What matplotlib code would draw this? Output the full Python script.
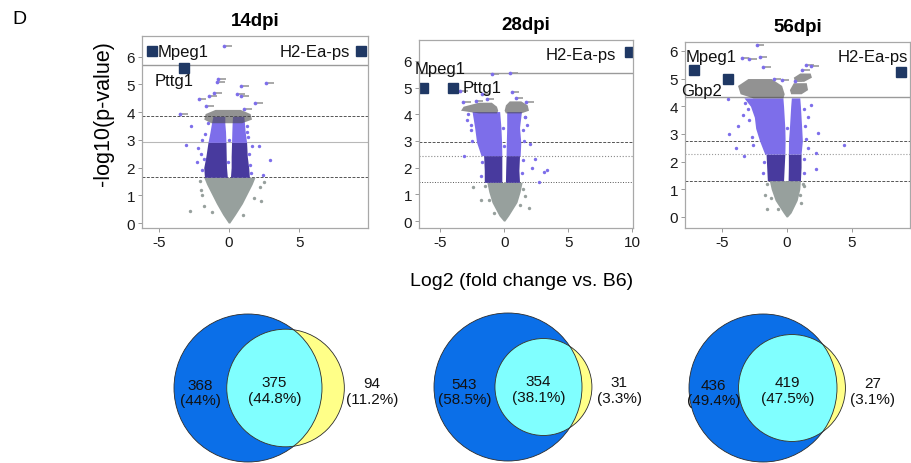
import math

import matplotlib
matplotlib.use("Agg")
import matplotlib.pyplot as plt
from matplotlib.patches import Circle

plt.rcParams['font.family'] = ['Liberation Sans', 'DejaVu Sans']
plt.rcParams['axes.unicode_minus'] = False

W, H = 912, 464

titles = ['14dpi', '28dpi', '56dpi']

# threshold lines (-log10 p)
thr_top = [5.71, 5.54, 4.34]
thr_hi = [3.85, 2.95, 2.75]
thr_mid = [2.91, 2.45, 2.27]
thr_lo = [1.65, 1.45, 1.31]

# ---- 14dpi cloud envelopes (y, left x, right x) ----
g14_y = [0.0, 0.3, 0.7, 1.1, 1.4, 1.65]
g14_l = [-0.05, -0.45, -0.9, -1.3, -1.6, -1.8]
g14_r = [0.05, 0.45, 0.95, 1.35, 1.65, 1.85]
d14_y = [1.65, 2.0, 2.4, 2.91]
d14_ll = [-1.75, -1.8, -1.65, -1.5]
d14_lr = [-0.12, -0.18, -0.2, -0.22]
d14_rl = [0.1, 0.15, 0.15, 0.18]
d14_rr = [1.45, 1.4, 1.3, 1.25]
p14_y = [2.91, 3.3, 3.6, 3.85]
p14_ll = [-1.5, -1.35, -1.25, -1.15]
p14_lr = [-0.22, -0.25, -0.3, -0.3]
p14_rl = [0.18, 0.2, 0.22, 0.25]
p14_rr = [1.25, 1.15, 1.1, 1.05]
b14 = [([3.62, 3.75, 3.95, 4.1], [-1.3, -1.8, -1.7, -1.0], [0.9, 1.6, 1.5, 0.8])]
lab14_x = [-3.48, -2.17, -1.63, -0.86, -0.8, -1.4, 0.84, 0.86, 1.88, 2.66, -0.34, 1.1, -1.1, 0.6]
lab14_y = [3.93, 4.48, 4.24, 5.08, 5.2, 4.6, 4.96, 4.6, 4.32, 5.05, 6.4, 4.1, 4.7, 4.65]
out14_x = [-3.1, -2.74, 1.64, 2.1, 2.9, 2.45, -1.9, -2.3, 1.3,
           -2.0, -1.9, -2.2, -1.7, -1.5, 1.5, 1.45, 1.35, 1.3, -0.05, 0.0, -1.8, 1.6]
out14_y = [2.83, 3.51, 2.79, 2.79, 2.27, 1.74, 3.0, 2.2, 3.3,
           2.5, 1.9, 2.7, 3.2, 3.6, 2.1, 2.5, 3.1, 3.5, 2.2, 3.0, 2.3, 1.8]
gout14_x = [-2.76, 2.5, -2.0, 2.3, -1.8, -2.1, 2.2, -1.9, 1.8, -1.2, 1.0]
gout14_y = [0.44, 1.47, 1.2, 0.8, 0.6, 1.5, 1.3, 1.0, 0.9, 0.4, 0.3]
genes14 = ['Mpeg1', 'Pttg1', 'H2-Ea-ps']
gx14 = [-5.52, -3.24, 9.38]
gy14 = [6.2, 5.58, 6.2]

# ---- 28dpi ----
g28_y = [0.0, 0.2, 0.7, 1.1, 1.45]
g28_l = [-0.05, -0.4, -0.95, -1.2, -1.35]
g28_r = [0.05, 0.35, 1.0, 1.25, 1.4]
d28_y = [1.45, 1.9, 2.45]
d28_ll = [-1.55, -1.55, -1.6]
d28_lr = [-0.18, -0.18, -0.18]
d28_rl = [0.1, 0.12, 0.15]
d28_rr = [1.2, 1.15, 1.2]
p28_y = [2.45, 2.95, 3.5, 4.1]
p28_ll = [-1.8, -2.15, -2.3, -2.5]
p28_lr = [-0.18, -0.2, -0.25, -0.35]
p28_rl = [0.15, 0.17, 0.2, 0.2]
p28_rr = [1.25, 1.3, 1.2, 1.35]
b28 = [([4.05, 4.15, 4.3, 4.45], [-2.0, -3.4, -3.2, -2.0], [-0.6, -0.5, -0.6, -1.0]),
       ([4.05, 4.15, 4.35, 4.5], [0.1, 0.0, 0.1, 0.4], [1.3, 1.9, 1.8, 1.3])]
lab28_x = [-0.96, 0.47, 0.6, -3.18, -1.35, 1.72, -1.75, -3.44, 0.9, -2.2]
lab28_y = [5.5, 5.55, 4.82, 4.44, 4.57, 4.44, 4.76, 4.88, 4.6, 4.5]
out28_x = [3.33, 3.1, 2.68, 2.37, 2.03, -3.12, -2.6, 1.8, -2.9, 2.2, 1.6,
           -1.8, -1.75, 1.4, 1.45, -2.5, -2.6, -2.8, 1.55, 1.45, 1.6, 0.0, -0.05]
out28_y = [1.91, 1.85, 1.45, 2.32, 2.88, 2.42, 3.4, 3.6, 3.8, 2.0, 3.9,
           1.7, 2.2, 1.8, 2.3, 3.0, 3.6, 4.0, 3.0, 3.4, 3.9, 2.8, 3.5]
gout28_x = [-2.4, 1.64, -1.8, 1.9, -1.5, 1.5, -1.2, 1.25, -0.8]
gout28_y = [1.26, 0.95, 0.8, 0.5, 1.3, 1.2, 0.8, 0.6, 0.3]
genes28 = ['Mpeg1', 'Pttg1', 'H2-Ea-ps']
gx28 = [-6.3, -3.96, 9.8]
gy28 = [4.97, 5.0, 6.34]

# ---- 56dpi ----
g56_y = [0.0, 0.15, 0.6, 1.0, 1.31]
g56_l = [-0.05, -0.28, -0.9, -1.2, -1.35]
g56_r = [0.05, 0.33, 0.8, 1.0, 1.05]
d56_y = [1.31, 1.8, 2.27]
d56_ll = [-1.5, -1.55, -1.6]
d56_lr = [-0.25, -0.2, -0.15]
d56_rl = [0.1, 0.12, 0.12]
d56_rr = [1.05, 1.1, 1.1]
p56_y = [2.27, 2.75, 3.2, 3.6, 4.0, 4.3]
p56_ll = [-1.7, -2.1, -2.4, -2.5, -2.8, -3.3]
p56_lr = [-0.15, -0.13, -0.15, -0.2, -0.25, -0.3]
p56_rl = [0.12, 0.13, 0.2, 0.25, 0.3, 0.35]
p56_rr = [1.1, 1.2, 1.15, 1.1, 1.05, 1.0]
b56 = [([4.3, 4.45, 4.75, 5.0], [-2.6, -3.6, -3.8, -3.0], [-0.3, -0.2, -0.4, -1.2]),
       ([4.45, 4.6, 4.85], [0.3, 0.2, 0.5], [1.1, 1.6, 1.5]),
       ([4.9, 5.05, 5.2], [0.6, 0.5, 1.0], [1.3, 1.9, 1.8])]
lab56_x = [-2.33, -2.08, -3.49, -2.9, -1.8, 1.51, 1.2, 1.9, -1.0, -0.4, 0.6]
lab56_y = [6.22, 5.78, 5.73, 5.7, 5.4, 5.5, 5.3, 5.45, 5.0, 4.95, 4.9]
out56_x = [4.41, 2.28, 2.41, 2.22, 1.85, -4.46, -3.28, -4.56, -3.74, -3.9, -3.0, 1.6, -2.6,
           -1.8, -1.75, 1.35, 1.3, -2.7, -2.9, -3.2, 1.45, 1.4, 1.35, -3.4, 0.0, 1.65]
out56_y = [2.61, 1.73, 3.03, 2.31, 4.04, 3.0, 2.21, 4.26, 3.3, 2.5, 3.9, 3.6, 2.6,
           1.6, 2.0, 1.6, 2.1, 2.9, 3.5, 4.1, 2.8, 3.3, 3.9, 3.7, 3.2, 2.5]
gout56_x = [-1.67, 1.3, -1.5, 1.1, -1.55, 1.25, -1.2, 1.0, -0.7]
gout56_y = [0.8, 1.1, 0.3, 0.5, 1.2, 1.2, 0.7, 0.8, 0.3]
genes56 = ['Mpeg1', 'Gbp2', 'H2-Ea-ps']
gx56 = [-7.15, -4.5, 8.82]
gy56 = [5.3, 5.0, 5.22]

# ---- Venn counts ----
venn_left = [368, 543, 436]
venn_both = [375, 354, 419]
venn_right = [94, 31, 27]
pct_left = ['44%', '58.5%', '49.4%']
pct_both = ['44.8%', '38.1%', '47.5%']
pct_right = ['11.2%', '3.3%', '3.1%']

GRAY = '#97a09d'
DARK = '#483a9e'
LIGHT = '#7d6eea'
NAVY = '#1f3864'


def px_rect(left, top, right, bottom):
    return [left / W, 1 - bottom / H, (right - left) / W, (bottom - top) / H]


def draw_volcano(ax, d):
    ax.fill_betweenx(d['g'][0], d['g'][1], d['g'][2], color=GRAY, lw=0)
    for y, l, r in [(d['dy'], d['dll'], d['dlr']), (d['dy'], d['drl'], d['drr'])]:
        ax.fill_betweenx(y, l, r, color=DARK, lw=0)
    for y, l, r in [(d['py'], d['pll'], d['plr']), (d['py'], d['prl'], d['prr'])]:
        ax.fill_betweenx(y, l, r, color=LIGHT, lw=0)
    for y, l, r in d['bands']:
        ax.fill_betweenx(y, l, r, color='#4a4a4a', alpha=0.6, lw=0)
    ax.scatter(d['gout'][0], d['gout'][1], s=6, color=GRAY, lw=0)
    ax.scatter(d['out'][0], d['out'][1], s=6, color=LIGHT, lw=0)
    lx = [x + 0.35 for x in d['lab'][0]]
    ax.scatter(lx, d['lab'][1], s=18, marker='_', color='#9a9a9a', lw=1.2)
    ax.scatter(d['lab'][0], d['lab'][1], s=7, color=LIGHT, lw=0)
    ax.plot(d['gx'], d['gy'], 's', ms=6.5, color=NAVY, ls='none')


panels = [
    dict(g=(g14_y, g14_l, g14_r), dy=d14_y, dll=d14_ll, dlr=d14_lr, drl=d14_rl, drr=d14_rr,
         py=p14_y, pll=p14_ll, plr=p14_lr, prl=p14_rl, prr=p14_rr, bands=b14,
         lab=(lab14_x, lab14_y), out=(out14_x, out14_y), gout=(gout14_x, gout14_y),
         genes=genes14, gx=gx14, gy=gy14),
    dict(g=(g28_y, g28_l, g28_r), dy=d28_y, dll=d28_ll, dlr=d28_lr, drl=d28_rl, drr=d28_rr,
         py=p28_y, pll=p28_ll, plr=p28_lr, prl=p28_rl, prr=p28_rr, bands=b28,
         lab=(lab28_x, lab28_y), out=(out28_x, out28_y), gout=(gout28_x, gout28_y),
         genes=genes28, gx=gx28, gy=gy28),
    dict(g=(g56_y, g56_l, g56_r), dy=d56_y, dll=d56_ll, dlr=d56_lr, drl=d56_rl, drr=d56_rr,
         py=p56_y, pll=p56_ll, plr=p56_lr, prl=p56_rl, prr=p56_rr, bands=b56,
         lab=(lab56_x, lab56_y), out=(out56_x, out56_y), gout=(gout56_x, gout56_y),
         genes=genes56, gx=gx56, gy=gy56),
]

rects = [px_rect(142, 37, 368, 229), px_rect(419, 41, 633, 229), px_rect(685, 43, 910, 229)]
xlims = [(-6.2, 9.9), (-6.64, 10.05), (-7.85, 9.5)]
ylims = [(-0.18, 6.75), (-0.26, 6.78), (-0.4, 6.32)]
xticks = [[-5, 0, 5], [-5, 0, 5, 10], [-5, 0, 5]]
mid_style = ['-', ':', ':']
mid_color = ['#b8b8b8', '#8a8a8a', '#9a9a9a']
lo_style = [(0, (3, 1.5)), ':', (0, (3, 1.5))]

# gene label placement: (x, y, ha, va) per gene
glabels = [
    [(-5.1, 6.2, 'left', 'center'), (-3.9, 5.14, 'center', 'center'), (8.64, 6.2, 'right', 'center')],
    [(-5.0, 5.73, 'center', 'center'), (-3.25, 5.02, 'left', 'center'), (8.7, 6.25, 'right', 'center')],
    [(-5.85, 5.8, 'center', 'center'), (-6.6, 4.55, 'center', 'center'), (6.65, 5.8, 'center', 'center')],
]

fig = plt.figure(figsize=(W / 100, H / 100), dpi=100)

for i, d in enumerate(panels):
    ax = fig.add_axes(rects[i])
    ax.set_xlim(*xlims[i])
    ax.set_ylim(*ylims[i])
    ax.axhline(thr_top[i], color='#9a9a9a', lw=1.0, zorder=1)
    ax.axhline(thr_hi[i], color='#555555', lw=0.7, ls=(0, (3, 1.5)), zorder=1)
    ax.axhline(thr_mid[i], color=mid_color[i], lw=0.8, ls=mid_style[i], zorder=1)
    ax.axhline(thr_lo[i], color='#555555', lw=0.7, ls=lo_style[i], zorder=1)
    draw_volcano(ax, d)
    for name, (tx, ty, ha, va) in zip(d['genes'], glabels[i]):
        ax.text(tx, ty, name, ha=ha, va=va, fontsize=12, color='#111111')
    ax.set_xticks(xticks[i])
    ax.set_yticks(range(0, 7))
    ax.tick_params(labelsize=11, length=3, width=0.6, color='#8a8a8a', labelcolor='#1a1a1a', pad=2)
    for sp in ax.spines.values():
        sp.set_color('#a8a8a8')
        sp.set_linewidth(0.9)
    ax.set_title(titles[i], fontsize=13.5, fontweight='bold', pad=8)
    if i == 0:
        ax.set_ylabel('-log10(p-value)', fontsize=15.5)
        ax.yaxis.set_label_coords(-0.125, 0.6)

fig.text(522 / W, 1 - 282 / H, 'Log2 (fold change vs. B6)', ha='center', va='center', fontsize=14)
fig.text(12 / W, 1 - 19 / H, 'D', ha='left', va='center', fontsize=14)


def lens_area(dist, r1, r2):
    if dist >= r1 + r2:
        return 0.0
    if dist <= abs(r1 - r2):
        return math.pi * min(r1, r2) ** 2
    a = r1 ** 2 * math.acos((dist ** 2 + r1 ** 2 - r2 ** 2) / (2 * dist * r1))
    b = r2 ** 2 * math.acos((dist ** 2 + r2 ** 2 - r1 ** 2) / (2 * dist * r2))
    c = 0.5 * math.sqrt((-dist + r1 + r2) * (dist + r1 - r2) * (dist - r1 + r2) * (dist + r1 + r2))
    return a + b - c


venn_centers = [(248, 389), (508, 388), (763, 389)]
R = 74.0
EDGE = '#2b2b2b'
for i in range(3):
    cx, cy = venn_centers[i]
    ax = fig.add_axes(px_rect(cx - 100, cy - 82, cx + 160, cy + 82))
    ax.set_xlim(-100 / R, 160 / R)
    ax.set_ylim(-82 / R, 82 / R)
    ax.axis('off')
    tot_a = venn_left[i] + venn_both[i]
    tot_b = venn_both[i] + venn_right[i]
    r2 = math.sqrt(tot_b / tot_a)
    target = math.pi * venn_both[i] / tot_a
    lo, hi = abs(1 - r2), 1 + r2
    for _ in range(60):
        mid = 0.5 * (lo + hi)
        if lens_area(mid, 1.0, r2) > target:
            lo = mid
        else:
            hi = mid
    dist = 0.5 * (lo + hi)

    blue = Circle((0, 0), 1.0, fc='#0b6fe8', ec='none')
    ax.add_patch(blue)
    ax.add_patch(Circle((dist, 0), r2, fc='#ffff88', ec='none'))
    cyan = Circle((dist, 0), r2, fc='#80ffff', ec='none')
    ax.add_patch(cyan)
    cyan.set_clip_path(blue)
    ax.add_patch(Circle((0, 0), 1.0, fc='none', ec=EDGE, lw=0.6))
    ax.add_patch(Circle((dist, 0), r2, fc='none', ec=EDGE, lw=0.6))

    inner_left = dist - r2
    right_edge = max(1.0, dist + r2)
    ax.text((-1 + inner_left) / 2, -0.06, f"{venn_left[i]}\n({pct_left[i]})",
            ha='center', va='center', fontsize=11, linespacing=1.15, color='#111111')
    ax.text((inner_left + 1) / 2, -0.03, f"{venn_both[i]}\n({pct_both[i]})",
            ha='center', va='center', fontsize=11, linespacing=1.15, color='#111111')
    ax.text(right_edge + 0.37, -0.04, f"{venn_right[i]}\n({pct_right[i]})",
            ha='center', va='center', fontsize=11, linespacing=1.15, color='#111111')

fig.savefig('out.png', dpi=100)
